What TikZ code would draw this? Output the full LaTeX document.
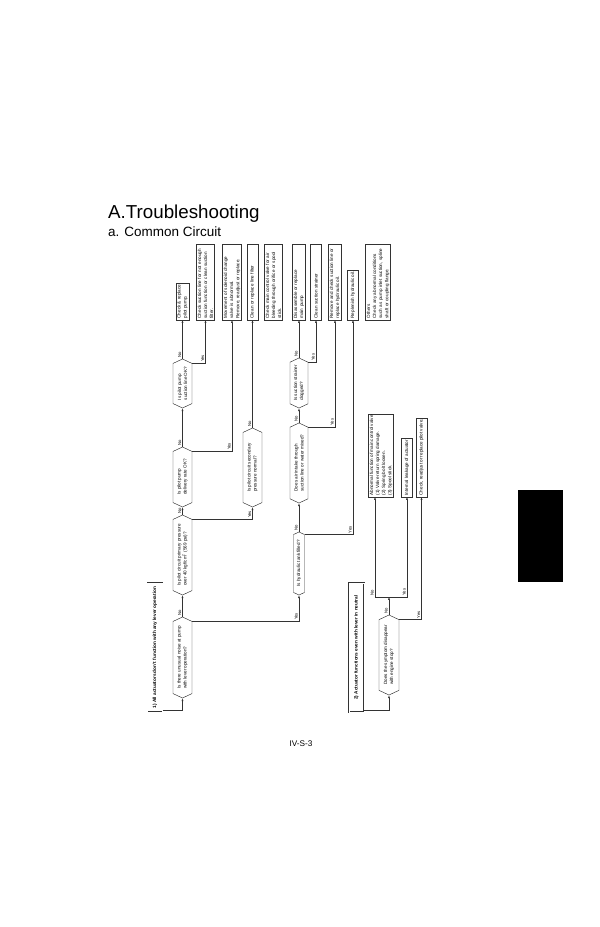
\documentclass[tikz,border=0pt]{standalone}
\usepackage{fontspec}
\setmainfont{Liberation Sans}
\usetikzlibrary{shapes.symbols,arrows.meta}

\begin{document}
\begin{tikzpicture}[x=0.03cm,y=-0.03cm,
	box/.style={draw=black!80,line width=0.4pt,rotate=90,anchor=west,align=left,inner sep=1.2pt,minimum height=9pt,font=\fontsize{3.9}{5.2}\selectfont},
	fixbox/.style={box,text width=62.4pt},
	ask/.style={draw=black!80,line width=0.4pt,signal,signal to=east and west,signal pointer angle=130,rotate=90,align=left,inner sep=1pt,minimum width=#1,minimum height=0.57cm,font=\fontsize{3.9}{5.2}\selectfont},
	head/.style={draw=black!80,double,double distance=0.8pt,line width=0.35pt,rotate=90,inner sep=2pt,minimum width=3.87cm,minimum height=0.45cm,font=\bfseries\fontsize{4}{5}\selectfont},
	lbl/.style={rotate=90,anchor=south west,inner sep=1pt,font=\fontsize{3.6}{4}\selectfont},
	arr/.style={-{Latex[length=2.5pt,width=1.8pt]},draw=black!80,line width=0.4pt}]
	
	\useasboundingbox (0,0) rectangle (600,927);
	
	\node[anchor=base west,inner sep=0,font=\fontsize{16}{18}\selectfont] (title) at (108,218) {A.Troubleshooting};
	\node[anchor=base west,inner sep=0,font=\fontsize{11.5}{13}\selectfont] (subtitle) at (108,236) {a. Common Circuit};
	
	\node[box] (pilotpump) at (182.5,320) {Check \& replace\\pilot pump.};
	\node[fixbox] (suctline) at (205.5,320) {Check suction line for not enough\\suction function or clean suction\\filter.};
	\node[fixbox] (solvalve) at (232,320) {Movement of solenoid change\\valve is abnormal.\\Remove, readjust or replace.};
	\node[fixbox] (linefilter) at (252.5,320) {Clean or replace line filter};
	\node[fixbox] (mainvalve) at (273.5,320) {Check main control valve for air\\bleeding through orifice or spool\\stick.};
	\node[fixbox] (mainpump) at (299,320) {Disassemble or replace\\main pump};
	\node[fixbox] (strainer) at (316,320) {Clean suction strainer};
	\node[fixbox] (oilchange) at (335,320) {Remove and check suction line or\\replace hydraulic oil.};
	\node[box] (replenish) at (353,320) {Replenish hydraulic oil.};
	\node[fixbox] (others) at (378,320) {Others\\Check any abnormal conditions\\such as pump inlet suction, spline\\shaft or coupling flange.};
	
	\node[box] (mcv) at (381,497) {Abnormal function of main control valve\\(1) Valve return spring damage.\\(2) Spring bolt loosen.\\(3) Spool stick.};
	\node[box] (leak) at (407,497) {Internal leakage of actuator};
	\node[box] (pilotvalve) at (421.5,497) {Check, readjust or replace pilot valve.};
	
	\node[head] (case1) at (155,647.5) {1) All actuators don't function with any lever operation};
	\node[head] (case2) at (356.5,647.5) {2) Actuator functions even with lever in neutral};
	
	\node[ask=2.43cm] (noise) at (182.5,657.5) {Is there unusual noise at pump\\with lever operation?};
	\node[ask=2.4cm] (primary) at (182.5,555) {Is pilot circuit primary pressure\\over 40 kgf/cm\textsuperscript{2} (569 psi)?};
	\node[ask=1.8cm] (delivery) at (182.5,477) {Is pilot pump\\delivery rate OK?};
	\node[ask=1.47cm] (pilotsuct) at (182.5,383.5) {Is pilot pump\\suction line OK?};
	\node[ask=2.37cm] (secondary) at (252.5,467.5) {Is pilot circuit secondary\\pressure normal?};
	\node[ask=1.89cm,minimum height=0.33cm] (tank) at (299,563.5) {Is hydraulic tank filled?};
	\node[ask=2.4cm,minimum height=0.54cm] (airintake) at (299,463) {Does air intake through\\suction line or water mixed?};
	\node[ask=1.5cm,minimum height=0.54cm] (clogged) at (299,383) {Is suction strainer\\clogged?};
	\node[ask=2.4cm,minimum height=0.6cm] (enginestop) at (389,655) {Does the symptom disappear\\with engine stop?};
	
	\coordinate (case1out) at ([yshift=1.5pt]case1.south west);
	\draw[arr] (case1out) -| (noise.west);
	\draw[arr] (noise.east) -- node[lbl,pos=0] {No} (primary.west);
	\draw[arr] (noise.south east) -| node[lbl,pos=0.5] {Yes} (tank.west);
	\draw[arr] (primary.east) -- node[lbl,pos=0] {No} (delivery.west);
	\draw[arr] (primary.south east) -| node[lbl,pos=0.5] {Yes} (secondary.west);
	\draw[arr] (delivery.east) -- node[lbl,pos=0] {No} (pilotsuct.west);
	\draw[arr] (delivery.south east) -| node[lbl,pos=0.5] {Yes} (solvalve.west);
	\draw[arr] (pilotsuct.east) -- node[lbl,pos=0] {No} (pilotpump.west);
	\draw[arr] (pilotsuct.south east) -| node[lbl,pos=0.5] {Yes} (suctline.west);
	\draw[arr] (secondary.east) -- node[lbl,pos=0] {No} (linefilter.west);
	\draw[arr] (tank.east) -- node[lbl,pos=0] {No} (airintake.west);
	\draw[arr] (tank.south east) -| node[lbl,pos=0.5] {Yes} (replenish.west);
	\draw[arr] (airintake.east) -- node[lbl,pos=0] {No} (clogged.west);
	\draw[arr] (airintake.south east) -| node[lbl,pos=0.5] {Yes} (oilchange.west);
	\draw[arr] (clogged.east) -- node[lbl,pos=0] {No} (mainpump.west);
	\draw[arr] (clogged.south east) -| node[lbl,pos=0.5] {Yes} (strainer.west);
	
	\coordinate (case2out) at ([yshift=1.5pt]case2.south west);
	\coordinate (split) at (389,597);
	\draw[arr] (case2out) -| (enginestop.west);
	\draw[arr] (enginestop.east) -- node[lbl,pos=0] {No} (split);
	\draw[arr] (split) -| node[lbl,pos=0.5] {No} ([xshift=-0.18cm]mcv.west);
	\draw[arr] (split) -| node[lbl,pos=0.5] {Yes} (leak.west);
	\draw[arr] (enginestop.south east) -| node[lbl,pos=0.5] {Yes} (pilotvalve.west);
	
	\fill (518,490) rectangle (563,582);
	\node[font=\fontsize{7}{8}\selectfont] (pagenum) at (301,744) {IV-S-3};
	
\end{tikzpicture}
\end{document}
